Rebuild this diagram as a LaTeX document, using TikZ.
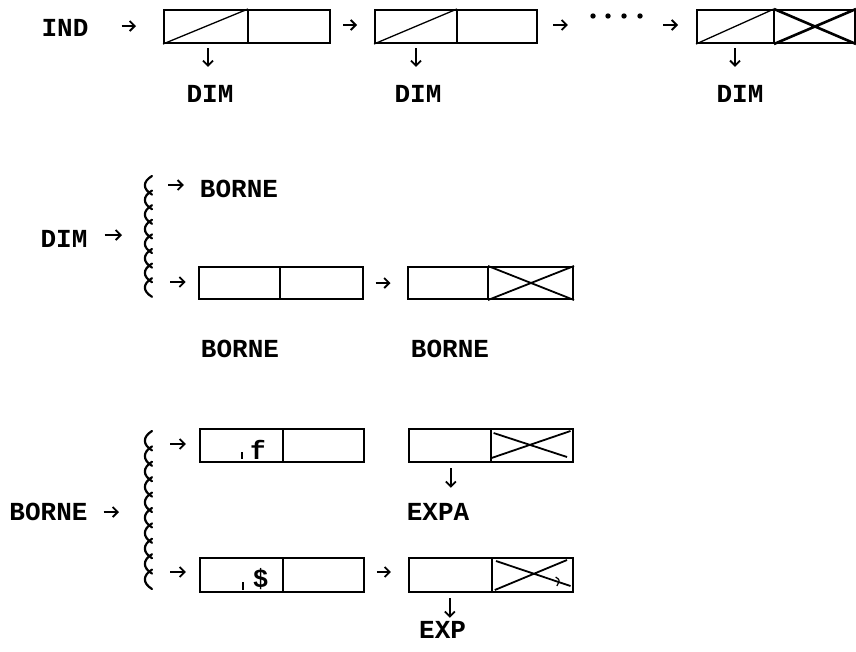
\documentclass[tikz,border=0pt]{standalone}
\usepackage{fontspec}
\newfontfamily\twfont{Liberation Mono}
\usetikzlibrary{arrows.meta,calc}
\newcommand\mydiv[2]{\draw[cellline] ($(#1.north west)+(#2,0)$) -- ($(#1.south west)+(#2,0)$);}
\newcommand\myxmark[3]{\draw[#3] ($(#1.north west)+(#2,0)$) -- (#1.south east) ($(#1.south west)+(#2,0)$) -- (#1.north east);}
\newcommand\mybrace[4]{% x, ytop, n, h
  \foreach \i in {1,...,#3}{
    \draw[bracel] (#1+9,{#2+(\i-1)*#4-2}) .. controls (#1-0.5,{#2+(\i-1)*#4+0.25*#4}) and (#1-0.5,{#2+(\i-1)*#4+0.75*#4}) .. (#1+9,{#2+\i*#4+2});
  }}
\begin{document}
\begin{tikzpicture}[x=1pt,y=-1pt,
  lbl/.style={font=\fontsize{26}{30}\selectfont\twfont\bfseries, inner sep=0pt, anchor=base, text height=15pt, text depth=0pt},
  cell/.style={draw, line width=2pt, inner sep=0pt},
  cellline/.style={line width=2pt},
  diag/.style={line width=1.3pt},
  xthick/.style={line width=2.6pt},
  xmid/.style={line width=1.8pt},
  bracel/.style={line width=2.2pt, line cap=round},
  arr/.style={line width=1.8pt, -{Straight Barb[length=5pt,width=10pt]}}]
\fill[white] (0,0) rectangle (856,651);
\useasboundingbox (0,0) rectangle (856,651);

% ---------- top row ----------
\node[lbl] (ind) at (65,36) {IND};
\node[cell, minimum width=166pt, minimum height=33pt] (b1) at (247,26.5) {};
\node[cell, minimum width=162pt, minimum height=33pt] (b2) at (456,26.5) {};
\node[minimum width=52pt, minimum height=6pt, inner sep=0pt] (dots) at (616,16) {};
\node[cell, minimum width=158pt, minimum height=33pt] (b3) at (776,26.5) {};
\foreach \dx in {593,608,624,640} \fill (\dx,16) circle (2.7);
\mydiv{b1}{85}
\mydiv{b2}{83}
\mydiv{b3}{78}
\draw[diag] (b1.south west) -- ($(b1.north west)+(85,0)$);
\draw[diag] (b2.south west) -- ($(b2.north west)+(83,0)$);
\draw[diag] (b3.south west) -- ($(b3.north west)+(78,0)$);
\myxmark{b3}{78}{xthick}

\draw[arr, shorten <=33pt, shorten >=27pt] (ind.east |- 0,26) -- (b1.west |- 0,26);
\draw[arr, shorten <=12pt, shorten >=17pt] (b1.east |- 0,25) -- (b2.west |- 0,25);
\draw[arr, shorten <=15pt, shorten >=22pt] (b2.east |- 0,25) -- (dots.west |- 0,25);
\draw[arr, shorten <=21pt, shorten >=18pt] (dots.east |- 0,25) -- (b3.west |- 0,25);

\node[lbl] (dim1) at (210,102) {DIM};
\node[lbl] (dim2) at (418,102) {DIM};
\node[lbl] (dim3) at (740,102) {DIM};
\coordinate (d1) at ([xshift=45pt]b1.south west);
\coordinate (d2) at ([xshift=42pt]b2.south west);
\coordinate (d3) at ([xshift=39pt]b3.south west);
\draw[arr, shorten <=4pt, shorten >=20pt] (d1) -- (d1 |- dim1.north);
\draw[arr, shorten <=4pt, shorten >=20pt] (d2) -- (d2 |- dim2.north);
\draw[arr, shorten <=4pt, shorten >=20pt] (d3) -- (d3 |- dim3.north);

% ---------- middle section ----------
\node[lbl] (dim) at (64,247) {DIM};
\mybrace{143}{178}{8}{14.6}
\coordinate (br1) at (143,235);
\coordinate (c1a) at (152,185);
\coordinate (c1b) at (152,282);
\node[lbl] (borne1) at (239,197) {BORNE};
\node[cell, minimum width=164pt, minimum height=32pt] (A) at (280.7,283) {};
\node[cell, minimum width=165.5pt, minimum height=32pt] (B) at (490.25,283) {};
\mydiv{A}{82.4}
\mydiv{B}{81.5}
\myxmark{B}{81.5}{xmid}
\draw[arr, shorten <=17pt, shorten >=21pt] (dim.east |- br1) -- (br1);
\draw[arr, shorten <=16pt, shorten >=16pt] (c1a) -- (c1a -| borne1.west);
\draw[arr, shorten <=18pt, shorten >=12pt] (c1b) -- (c1b -| A.west);
\draw[arr, shorten <=12pt, shorten >=16pt] (A.east) -- (B.west);
\node[lbl] (borne2) at (240,357) {BORNE};
\node[lbl] (borne3) at (450,357) {BORNE};

% ---------- bottom section ----------
\node[lbl] (borne) at (48.5,520) {BORNE};
\mybrace{143}{433}{10}{15.4}
\coordinate (br2) at (143,512);
\coordinate (c2a) at (152,444);
\coordinate (c2b) at (152,572);
\node[cell, minimum width=164pt, minimum height=33pt] (C) at (281.9,445.5) {};
\node[cell, minimum width=164pt, minimum height=33pt] (D) at (490.85,445.5) {};
\node[cell, minimum width=164pt, minimum height=34pt] (E) at (281.9,575) {};
\node[cell, minimum width=164pt, minimum height=34pt] (F) at (490.85,575) {};
\mydiv{C}{83.7}
\mydiv{D}{82.8}
\mydiv{E}{83.7}
\mydiv{F}{83.8}
\draw[xmid] (491.5,458) -- (570.5,431) (493.6,433) -- (567,457);
\draw[xmid] (494.8,590) -- (567,560) (496,561) -- (570.5,586);
\draw[line width=1.2pt] (555.6,577) .. controls (560,580) .. (556.8,586);
\node[lbl] (f) at (258,459) {f};
\node[lbl] (dol) at (260.6,587) {\$};
\draw[line width=2pt] (242,452) -- (242,459);
\draw[line width=2pt] (243.4,582) -- (243.4,590);
\draw[arr, shorten <=16pt, shorten >=24pt] (borne.east |- br2) -- (br2);
\draw[arr, shorten <=18pt, shorten >=13pt] (c2a) -- (c2a -| C.west);
\draw[arr, shorten <=18pt, shorten >=13pt] (c2b) -- (c2b -| E.west);
\draw[arr, shorten <=12pt, shorten >=17pt] (E.east |- c2b) -- (F.west |- c2b);
\node[lbl] (expa) at (438,520) {EXPA};
\node[lbl] (exp) at (442.6,638) {EXP};
\coordinate (dd) at ([xshift=43pt]D.south west);
\coordinate (df) at ([xshift=42pt]F.south west);
\draw[arr, shorten <=5pt, shorten >=17pt] (dd) -- (dd |- expa.north);
\draw[arr, shorten <=5pt, shorten >=5pt] (df) -- (df |- exp.north);
\end{tikzpicture}
\end{document}
